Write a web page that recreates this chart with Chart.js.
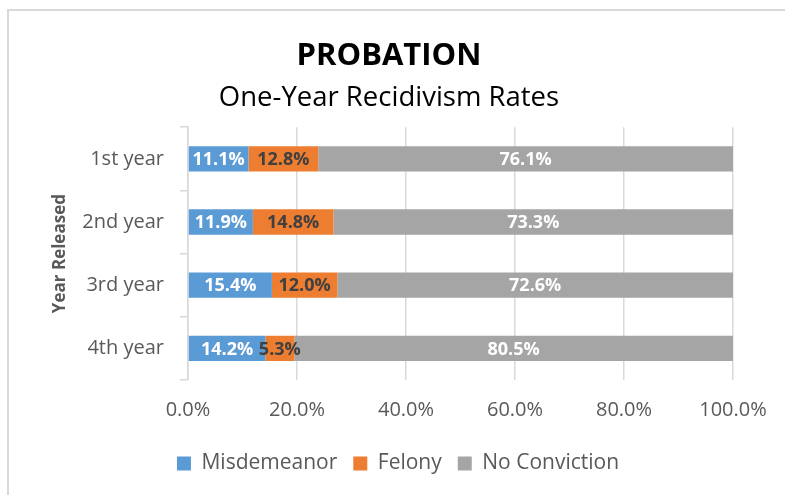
<!DOCTYPE html>
<html lang="en">
<head>
  <meta charset="UTF-8" />
  <title>Probation - One-Year Recidivism Rates</title>
  <script src="https://cdn.jsdelivr.net/npm/chart.js@4.4.0/dist/chart.umd.min.js"></script>
  <style>
    html, body {
      margin: 0;
      padding: 0;
      background: #fff;
      overflow: hidden;
    }
    #frame {
      position: absolute;
      left: 7px;
      top: 9px;
      width: 800px;
      height: 500px;
      border: 2px solid #d9d9d9;
      box-sizing: border-box;
    }
    #chart-container {
      position: absolute;
      left: 0;
      top: 0;
      width: 785px;
      height: 495px;
    }
  </style>
</head>
<body>
  <div id="frame"></div>
  <div id="chart-container">
    <canvas id="probChart"></canvas>
  </div>

  <script>
    const years = ['1st year', '2nd year', '3rd year', '4th year'];
    const misdemeanor = [11.1, 11.9, 15.4, 14.2];
    const felony = [12.8, 14.8, 12.0, 5.3];
    const noConviction = [76.1, 73.3, 72.6, 80.5];
    const xTicks = [0, 20, 40, 60, 80, 100];

    const FONT = "'Open Sans', sans-serif";
    const labelColors = ['#ffffff', '#404040', '#ffffff'];

    // writes the value in the middle of each bar segment
    const segmentLabels = {
      id: 'segmentLabels',
      afterDatasetsDraw(chart) {
        const ctx = chart.ctx;
        ctx.save();
        ctx.font = "bold 18px " + FONT;
        ctx.textAlign = 'center';
        ctx.textBaseline = 'middle';
        chart.data.datasets.forEach((ds, i) => {
          const meta = chart.getDatasetMeta(i);
          ctx.fillStyle = labelColors[i];
          meta.data.forEach((bar, j) => {
            const cx = (bar.x + bar.base) / 2;
            ctx.fillText(ds.data[j].toFixed(1) + '%', cx, bar.y + 1);
          });
        });
        ctx.restore();
      }
    };

    // legend sits centred on the whole canvas, not on the padded box
    const legendShift = {
      id: 'legendShift',
      afterLayout(chart) {
        chart.legend.left += 9;
        chart.legend.right += 9;
      }
    };

    new Chart(document.getElementById('probChart'), {
      type: 'bar',
      data: {
        labels: years,
        datasets: [
          { label: 'Misdemeanor', data: misdemeanor, backgroundColor: '#5b9bd5' },
          { label: 'Felony', data: felony, backgroundColor: '#ed7d31' },
          { label: 'No Conviction', data: noConviction, backgroundColor: '#a5a5a5' }
        ]
      },
      options: {
        indexAxis: 'y',
        responsive: true,
        maintainAspectRatio: false,
        animation: false,
        categoryPercentage: 1,
        barPercentage: 0.4,
        layout: { padding: { left: 45, right: 52, top: 0, bottom: 11 } },
        scales: {
          x: {
            stacked: true,
            min: 0,
            max: 100,
            afterBuildTicks: axis => { axis.ticks = xTicks.map(v => ({ value: v })); },
            afterFit: scale => { scale.height = 57; },
            border: { display: false },
            grid: { color: '#d9d9d9', lineWidth: 1.5, drawTicks: false },
            ticks: {
              padding: 18,
              color: '#595959',
              font: { family: FONT, size: 20 },
              callback: v => v.toFixed(1) + '%'
            }
          },
          y: {
            stacked: true,
            afterFit: scale => { scale.width = 143; },
            border: { display: true, color: '#d9d9d9', width: 1.5 },
            grid: { offset: true, drawOnChartArea: false, drawTicks: true, tickLength: 8, color: '#d9d9d9', lineWidth: 1.5 },
            ticks: {
              padding: 16,
              color: '#595959',
              font: { family: FONT, size: 20 }
            },
            title: {
              display: true,
              text: 'Year Released',
              color: '#595959',
              font: { family: FONT, size: 17, weight: 'bold' },
              padding: { top: 5, bottom: 0 }
            }
          }
        },
        plugins: {
          title: {
            display: true,
            text: 'PROBATION',
            color: '#000',
            font: { family: FONT, size: 31, weight: 'bold' },
            padding: { top: 38, bottom: 6 }
          },
          subtitle: {
            display: true,
            text: 'One-Year Recidivism Rates',
            color: '#000',
            font: { family: FONT, size: 27.5, weight: 'normal' },
            padding: { top: 0, bottom: 13 }
          },
          legend: {
            position: 'bottom',
            labels: {
              boxWidth: 14,
              boxHeight: 14,
              padding: 16,
              color: '#595959',
              font: { family: FONT, size: 21 }
            }
          },
          tooltip: { enabled: false }
        }
      },
      plugins: [segmentLabels, legendShift]
    });
  </script>
</body>
</html>
